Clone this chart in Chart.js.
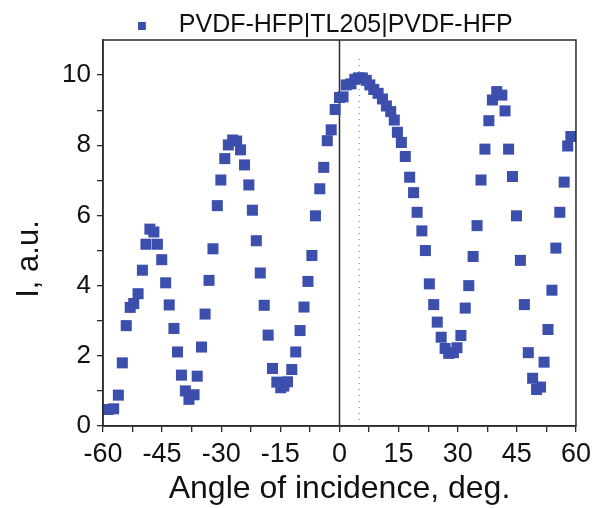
<!DOCTYPE html>
<html>
<head>
<meta charset="utf-8">
<script src="https://cdn.jsdelivr.net/npm/chart.js@4"></script>
<style>
  html, body { margin: 0; padding: 0; background: #fff; }
  #wrap { width: 597px; height: 508px; }
</style>
</head>
<body>
<div id="wrap"><canvas id="chart" width="597" height="508"></canvas></div>
<script>
// angle of incidence (deg) and intensity (a.u.)
const angles = [
  -58.7, -57.3, -56.1, -55.1, -54.1, -53.1, -52.2, -51.1, -50.0, -49.1,
  -48.1, -47.1, -46.2, -45.1, -44.1, -43.2, -42.0, -41.1, -40.1, -39.1,
  -38.2, -36.9, -36.1, -35.0, -34.1, -33.1, -32.1, -31.0, -30.1, -29.1,
  -28.2, -27.1, -26.1, -25.1, -24.1, -23.0, -22.1, -21.1, -20.1, -19.1,
  -18.1, -17.0, -15.9, -14.9, -14.1, -13.2, -12.1, -11.1, -10.0, -9.0,
  -8.0, -7.0, -6.1, -5.0, -4.0, -3.1, -2.1, -1.1, 0.0, 0.9,
  1.7, 2.9, 3.9, 4.8, 5.8, 6.8, 7.7, 8.7, 9.8, 10.9,
  11.9, 13.0, 13.9, 14.7, 15.7, 16.7, 17.8, 18.8, 19.7, 20.9,
  21.8, 22.8, 23.9, 24.8, 25.8, 26.8, 27.7, 28.9, 29.8, 30.8,
  31.9, 32.8, 33.9, 34.9, 35.9, 36.9, 37.9, 38.8, 39.9, 41.2,
  42.0, 42.9, 43.9, 44.9, 45.9, 46.9, 47.9, 49.0, 50.0, 51.0,
  51.9, 52.9, 53.9, 54.9, 55.9, 57.0, 57.9, 58.7
];
const intensity = [
  0.47, 0.49, 0.88, 1.80, 2.86, 3.38, 3.49, 3.77, 4.44, 5.18,
  5.61, 5.53, 5.18, 4.74, 4.08, 3.45, 2.78, 2.11, 1.45, 1.00,
  0.76, 0.89, 1.42, 2.25, 3.19, 4.15, 5.05, 6.28, 7.01, 7.62,
  8.01, 8.15, 8.12, 7.87, 7.44, 6.87, 6.15, 5.28, 4.36, 3.44,
  2.59, 1.64, 1.25, 1.09, 1.14, 1.26, 1.61, 2.11, 2.72, 3.39,
  4.12, 4.86, 5.99, 6.76, 7.37, 8.13, 8.44, 9.02, 9.36, 9.38,
  9.72, 9.75, 9.88, 9.92, 9.92, 9.85, 9.72, 9.59, 9.48, 9.32,
  9.12, 8.96, 8.72, 8.37, 8.08, 7.68, 7.09, 6.65, 6.09, 5.56,
  5.00, 4.05, 3.46, 2.96, 2.53, 2.21, 2.07, 2.09, 2.23, 2.58,
  3.36, 4.00, 4.83, 5.71, 7.01, 7.89, 8.70, 9.29, 9.53, 9.43,
  8.98, 7.89, 7.11, 5.99, 4.72, 3.46, 2.09, 1.36, 1.04, 1.11,
  1.82, 2.75, 3.87, 5.07, 6.09, 6.95, 7.98, 8.25
];
const seriesName = 'PVDF-HFP|TL205|PVDF-HFP';
const xTitle = 'Angle of incidence, deg.';
const yTitle = 'I, a.u.';
const xTicks = [-60, -45, -30, -15, 0, 15, 30, 45, 60];
const yTicks = [0, 2, 4, 6, 8, 10];
const zeroLine = [0, 11];      // solid line at normal incidence
const markLine = [5, 10.6];    // dotted line at 5 deg: [angle, top]

const blue = '#3d4fac';
const axisColor = '#2a2a2a';
const font = 'Liberation Sans, Arial, sans-serif';

// legend marker: small square with empty room on its right
const legendMark = document.createElement('canvas');
legendMark.width = 32;
legendMark.height = 8;
const lm = legendMark.getContext('2d');
lm.fillStyle = blue;
lm.fillRect(0, 0, 8, 8);

// frame round the plot area, rotated y title, legend nudged over the plot
const frame = {
  id: 'frame',
  afterLayout(chart) {
    const lg = chart.legend;
    lg.left += 39;
    lg.right += 39;
    lg.top += 8;
    lg.bottom += 8;
  },
  afterDraw(chart) {
    const a = chart.chartArea;
    const ctx = chart.ctx;
    ctx.save();
    ctx.strokeStyle = axisColor;
    ctx.lineWidth = 1.5;
    ctx.strokeRect(a.left, a.top, a.right - a.left, a.bottom - a.top);

    ctx.translate(29, (a.top + a.bottom) / 2 + 26);
    ctx.rotate(-Math.PI / 2);
    ctx.fillStyle = '#111';
    ctx.font = '31px ' + font;
    ctx.textAlign = 'center';
    ctx.textBaseline = 'middle';
    ctx.fillText(yTitle, 0, 0);
    ctx.restore();
  }
};

const points = angles.map((a, i) => ({ x: a, y: intensity[i] }));

new Chart(document.getElementById('chart'), {
  type: 'scatter',
  data: {
    datasets: [
      {
        label: seriesName,
        data: points,
        pointStyle: 'rect',
        pointRadius: 7.8,
        pointHoverRadius: 7.8,
        backgroundColor: blue,
        borderColor: blue,
        borderWidth: 0
      },
      {
        label: 'zero',
        data: [{ x: zeroLine[0], y: 0 }, { x: zeroLine[0], y: zeroLine[1] }],
        showLine: true,
        pointRadius: 0,
        borderColor: axisColor,
        borderWidth: 1.5
      },
      {
        label: 'mark',
        data: [{ x: markLine[0], y: 0 }, { x: markLine[0], y: markLine[1] }],
        showLine: true,
        pointRadius: 0,
        borderColor: '#777',
        borderWidth: 1,
        borderDash: [1, 5]
      }
    ]
  },
  options: {
    responsive: false,
    animation: false,
    layout: { padding: { left: 0, right: 21, top: 3, bottom: 0 } },
    plugins: {
      tooltip: { enabled: false },
      legend: {
        position: 'top',
        labels: {
          filter: item => item.datasetIndex === 0,
          usePointStyle: true,
          pointStyle: legendMark,
          boxWidth: 25,
          boxHeight: 8,
          color: '#111',
          padding: 2,
          font: { family: font, size: 25 }
        }
      }
    },
    scales: {
      x: {
        type: 'linear',
        min: -60,
        max: 60,
        afterFit: s => { s.height = 82; },
        afterBuildTicks: s => {
          const t = [];
          for (let v = -60; v <= 60; v += 7.5) t.push({ value: v });
          s.ticks = t;
        },
        ticks: {
          autoSkip: false,
          maxRotation: 0,
          color: '#111',
          padding: 6,
          font: { family: font, size: 27 },
          callback: v => (xTicks.includes(v) ? String(v) : '')
        },
        grid: {
          drawOnChartArea: false,
          drawTicks: true,
          tickLength: 6,
          color: axisColor,
          lineWidth: 1.3
        },
        border: { display: true, color: axisColor, width: 1.5 },
        title: {
          display: true,
          text: xTitle,
          color: '#111',
          padding: { top: 4, bottom: 0 },
          font: { family: font, size: 32 }
        }
      },
      y: {
        type: 'linear',
        min: 0,
        max: 11,
        afterFit: s => { s.width = 103; },
        afterBuildTicks: s => {
          const t = [];
          for (let v = 0; v <= 10; v += 1) t.push({ value: v });
          s.ticks = t;
        },
        ticks: {
          autoSkip: false,
          color: '#111',
          padding: 6,
          font: { family: font, size: 26 },
          callback: v => (yTicks.includes(v) ? String(v) : '')
        },
        grid: {
          drawOnChartArea: false,
          drawTicks: true,
          tickLength: 6,
          color: axisColor,
          lineWidth: 1.3
        },
        border: { display: true, color: axisColor, width: 1.5 }
      }
    }
  },
  plugins: [frame]
});
</script>
</body>
</html>
